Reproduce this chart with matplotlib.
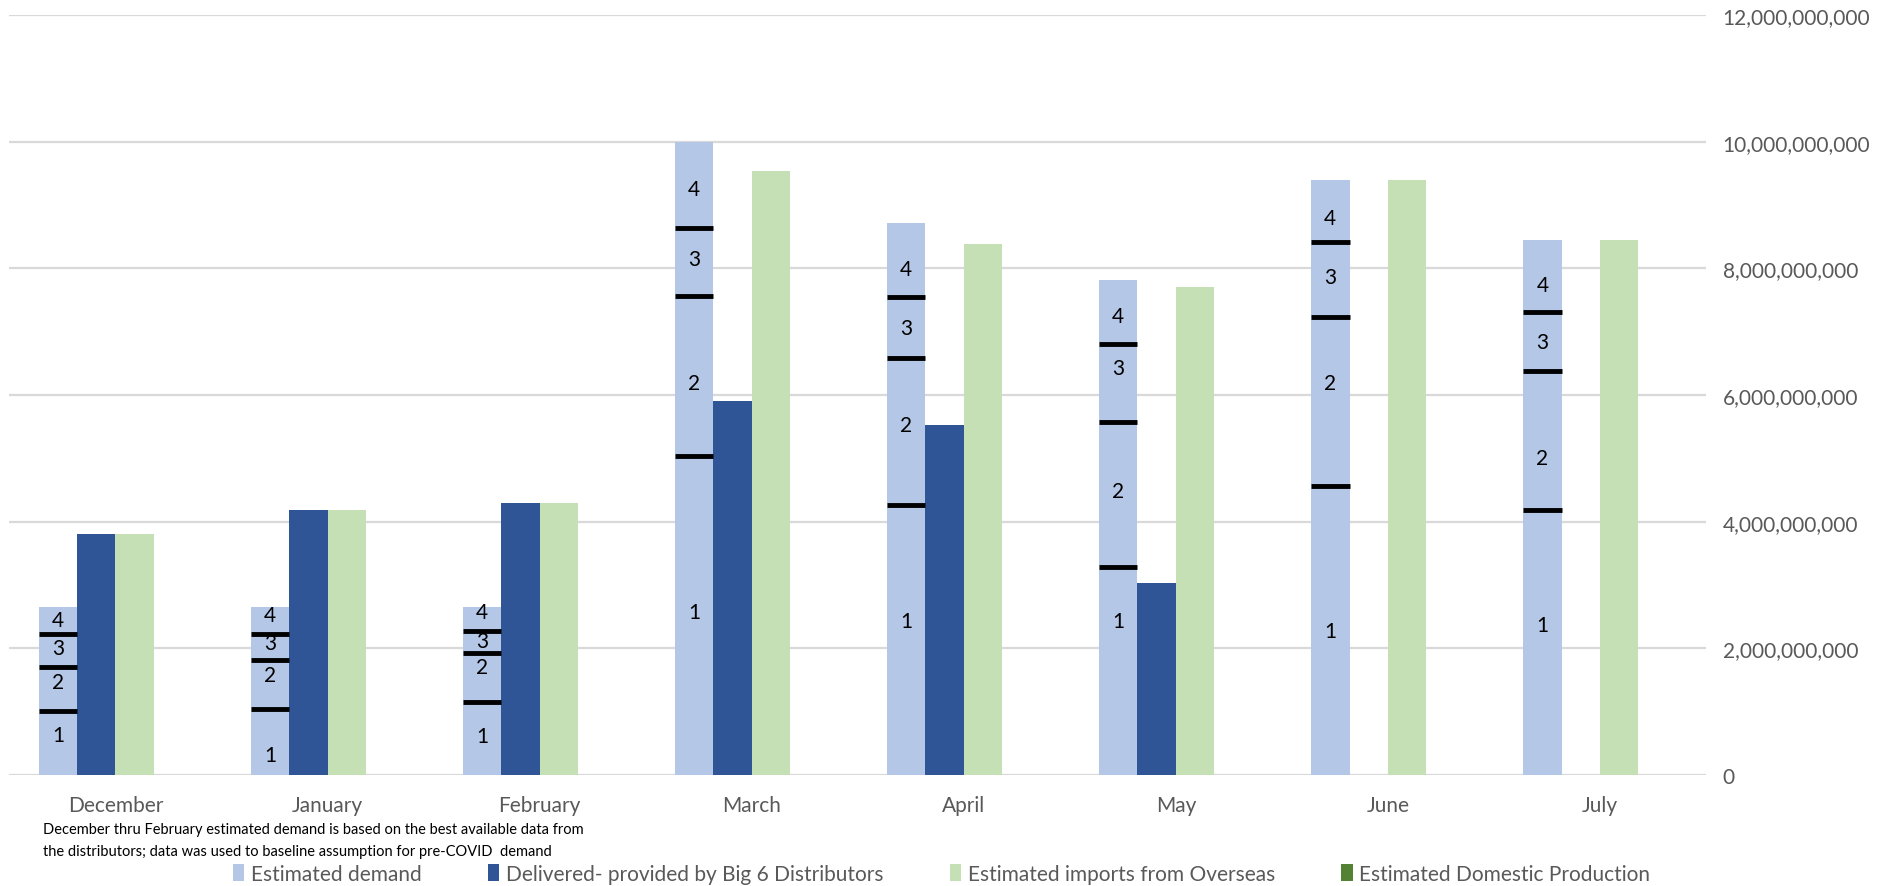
import matplotlib
matplotlib.use("Agg")
import matplotlib.pyplot as plt
from matplotlib.patches import Patch
from matplotlib.ticker import FuncFormatter
import numpy as np

plt.rcParams["font.family"] = ["Lato", "DejaVu Sans"]

months = ["December", "January", "February", "March", "April", "May", "June", "July"]
est_demand = [2.66e9, 2.66e9, 2.66e9, 10.0e9, 8.71e9, 7.82e9, 9.39e9, 8.44e9]
delivered = [3.80e9, 4.19e9, 4.30e9, 5.91e9, 5.53e9, 3.03e9, 0, 0]
imports = [3.80e9, 4.19e9, 4.30e9, 9.54e9, 8.39e9, 7.70e9, 9.39e9, 8.44e9]
domestic = [0, 0, 0, 0, 0, 0, 0, 0]

# week boundaries drawn on the estimated demand bars
week_marks = [
    [1.02e9, 1.71e9, 2.23e9],
    [1.05e9, 1.81e9, 2.23e9],
    [1.15e9, 1.92e9, 2.27e9],
    [5.03e9, 7.57e9, 8.64e9],
    [4.26e9, 6.59e9, 7.55e9],
    [3.29e9, 5.57e9, 6.81e9],
    [4.56e9, 7.23e9, 8.42e9],
    [4.18e9, 6.38e9, 7.31e9],
]
# where the week numbers 1-4 sit
week_labels = ["1", "2", "3", "4"]
week_label_y = [
    [0.63e9, 1.47e9, 2.00e9, 2.45e9],
    [0.32e9, 1.58e9, 2.08e9, 2.53e9],
    [0.61e9, 1.71e9, 2.12e9, 2.58e9],
    [2.57e9, 6.19e9, 8.15e9, 9.25e9],
    [2.44e9, 5.53e9, 7.06e9, 7.99e9],
    [2.44e9, 4.49e9, 6.42e9, 7.25e9],
    [2.27e9, 6.19e9, 7.86e9, 8.80e9],
    [2.37e9, 5.00e9, 6.83e9, 7.74e9],
]

series = [
    ("Estimated demand", est_demand, "#b4c7e7"),
    ("Delivered- provided by Big 6 Distributors", delivered, "#2f5597"),
    ("Estimated imports from Overseas", imports, "#c5e0b4"),
    ("Estimated Domestic Production", domestic, "#548235"),
]

fig = plt.figure(figsize=(18.83, 8.87), dpi=100)
ax = fig.add_axes([0.005, 0.125, 0.901, 0.857])

x = np.arange(len(months))
w = 0.181
for i, (name, vals, col) in enumerate(series):
    ax.bar(x + (i - 1.5) * w, vals, width=w, color=col, zorder=2)

est_x = x - 1.5 * w
for xi, marks, ly in zip(est_x, week_marks, week_label_y):
    ax.hlines(marks, xi - w / 2, xi + w / 2, color="black", lw=3.5, zorder=3)
    for lab, yy in zip(week_labels, ly):
        ax.text(xi, yy, lab, ha="center", va="center", fontsize=15, color="black", zorder=4)

ax.set_xlim(-0.5, len(months) - 0.5)
ax.set_ylim(0, 12e9)
ax.set_yticks(np.arange(0, 12.1e9, 2e9))
ax.yaxis.set_major_formatter(FuncFormatter(lambda v, p: f"{v:,.0f}"))
ax.yaxis.tick_right()
ax.tick_params(axis="y", length=0, pad=12, labelsize=15, labelcolor="#595959")
ax.set_xticks(x)
ax.set_xticklabels(months)
ax.tick_params(axis="x", length=0, pad=14, labelsize=15, labelcolor="#595959")
ax.grid(axis="y", color="#d9d9d9", lw=1.6, zorder=0)
ax.set_axisbelow(True)
for s in ax.spines.values():
    s.set_visible(False)

fig.text(0.023, 0.064, "December thru February estimated demand is based on the best available data from",
         fontsize=10.5, color="black", va="center")
fig.text(0.023, 0.040, "the distributors; data was used to baseline assumption for pre-COVID  demand",
         fontsize=10.5, color="black", va="center")

handles = [Patch(facecolor=c, edgecolor="none", label=n) for n, _, c in series]
fig.legend(handles=handles, loc="center", bbox_to_anchor=(0.5, 0.014), ncol=4, frameon=False,
           fontsize=15, labelcolor="#595959", handlelength=0.55, handleheight=0.9,
           handletextpad=0.3, columnspacing=3.2)

fig.savefig("out.png", dpi=100)
